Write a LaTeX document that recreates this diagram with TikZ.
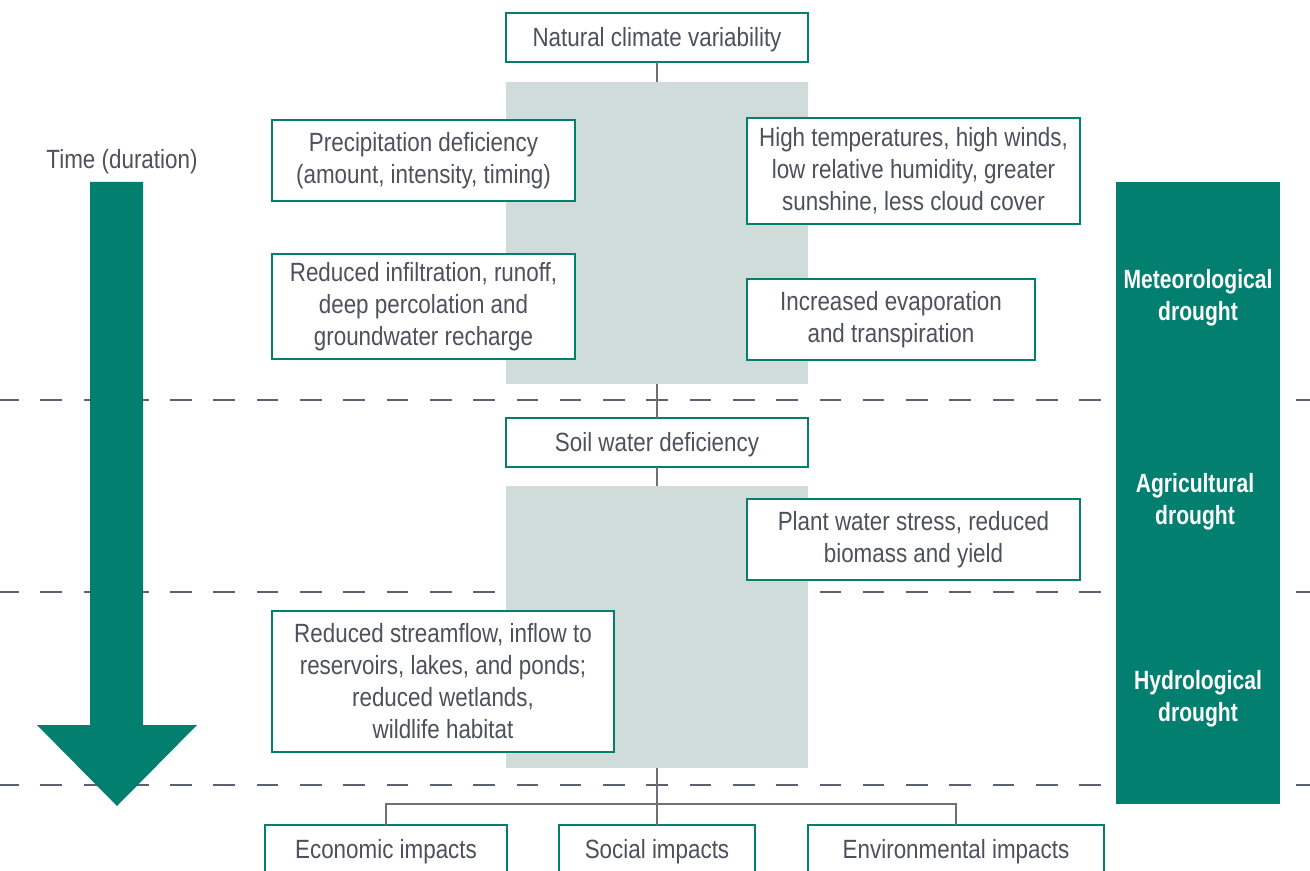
\documentclass[tikz,border=0pt]{standalone}
\usepackage{fontspec}
\setmainfont{Liberation Sans}[FakeStretch=0.85]
\newfontfamily\barfont{Liberation Sans}[FakeStretch=0.8]
\usetikzlibrary{positioning}

\definecolor{droughtgreen}{HTML}{037F6F}
\definecolor{bandgray}{HTML}{D0DCD9}
\definecolor{textgray}{HTML}{4C515B}
\definecolor{linegray}{HTML}{6D7079}
\definecolor{dashgray}{HTML}{5B6170}

\tikzset{
   stepbox/.style = {draw=droughtgreen, line width=1.1pt, fill=white,
      text=textgray, align=center, inner sep=0pt, outer sep=0pt,
      font=\fontsize{15}{18.2}\selectfont,
      execute at begin node={\rule{0pt}{13.2pt}}},
   band/.style    = {fill=bandgray, inner sep=0pt, outer sep=0pt,
      minimum width=6.04cm},
   link/.style    = {draw=linegray, line width=1pt},
   divider/.style = {draw=dashgray, line width=0.8pt,
      dash pattern=on 0.433cm off 0.433cm, dash phase=0.06cm},
   barlabel/.style = {text=white, align=center,
      font=\barfont\bfseries\fontsize{15}{18.2}\selectfont}
}

\begin{document}
\begin{tikzpicture}[x=0.02cm, y=-0.02cm]

   \useasboundingbox (0,0) rectangle (1310,871);
   \clip (0,0) rectangle (1310,871);

   % stage borders
   \draw[divider] (0,400) -- (1310,400);
   \draw[divider] (0,592) -- (1310,592);
   \draw[divider] (0,785) -- (1310,785);

   % middle column
   \node[stepbox, minimum width=6.04cm, minimum height=0.98cm] (nat)
      at (657,37.5) {Natural climate variability};
   \node[band, minimum height=6.04cm, below=0.4cm of nat]   (band1) {};
   \node[stepbox, minimum width=6.04cm, minimum height=0.98cm,
      below=0.68cm of band1]                                (soil)
      {Soil water deficiency};
   \node[band, minimum height=5.64cm, below=0.38cm of soil] (band2) {};

   % meteorological stage
   \node[stepbox, minimum width=6.06cm, minimum height=1.62cm] (precip)
      at (423.5,160.5) {Precipitation deficiency\\(amount, intensity, timing)};
   \node[stepbox, minimum width=6.66cm, minimum height=2.12cm] (heat)
      at (913.5,171) {High temperatures, high winds,\\low relative humidity, greater\\sunshine, less cloud cover};
   \node[stepbox, minimum width=6.06cm, minimum height=2.1cm]  (infilt)
      at (423.5,306.5) {Reduced infiltration, runoff,\\deep percolation and\\groundwater recharge};
   \node[stepbox, minimum width=5.76cm, minimum height=1.62cm] (evap)
      at (891,319.5) {Increased evaporation\\and transpiration};

   % agricultural stage
   \node[stepbox, minimum width=6.66cm, minimum height=1.62cm] (plant)
      at (913.5,539.5) {Plant water stress, reduced\\biomass and yield};

   % hydrological stage
   \node[stepbox, minimum width=6.84cm, minimum height=2.82cm] (stream)
      at (443,681.5) {Reduced streamflow, inflow to\\reservoirs, lakes, and ponds;\\reduced wetlands,\\wildlife habitat};

   % impacts
   \node[stepbox, minimum width=4.84cm, minimum height=1cm] (econ)
      at (386,850) {Economic impacts};
   \node[stepbox, minimum width=3.92cm, minimum height=1cm] (social)
      at (657,850) {Social impacts};
   \node[stepbox, minimum width=5.92cm, minimum height=1cm] (env)
      at (956,850) {Environmental impacts};

   \coordinate (hub) at (657,804);

   \draw[link] (nat.south)   -- (band1.north);
   \draw[link] (band1.south) -- (soil.north);
   \draw[link] (soil.south)  -- (band2.north);
   \draw[link] (band2.south) -- (hub);
   \draw[link, line width=0.8pt] (econ.north) |- (hub) -| (env.north);
   \draw[link] (hub) -- (social.north);

   % time arrow
   \node[text=textgray, font=\fontsize{15}{18.2}\selectfont] (time)
      at (122,162) {Time (duration)};
   \fill[droughtgreen] (90,182) -- (143,182) -- (143,725) -- (197,725)
      -- (117,806) -- (37,725) -- (90,725) -- cycle;

   % drought types
   \fill[droughtgreen] (1116,182) rectangle (1280,804);
   \node[barlabel] (meteo) at (1198,298) {Meteorological\\drought};
   \node[barlabel] (agri)  at (1195,502) {Agricultural\\drought};
   \node[barlabel] (hydro) at (1198,699) {Hydrological\\drought};

\end{tikzpicture}
\end{document}
